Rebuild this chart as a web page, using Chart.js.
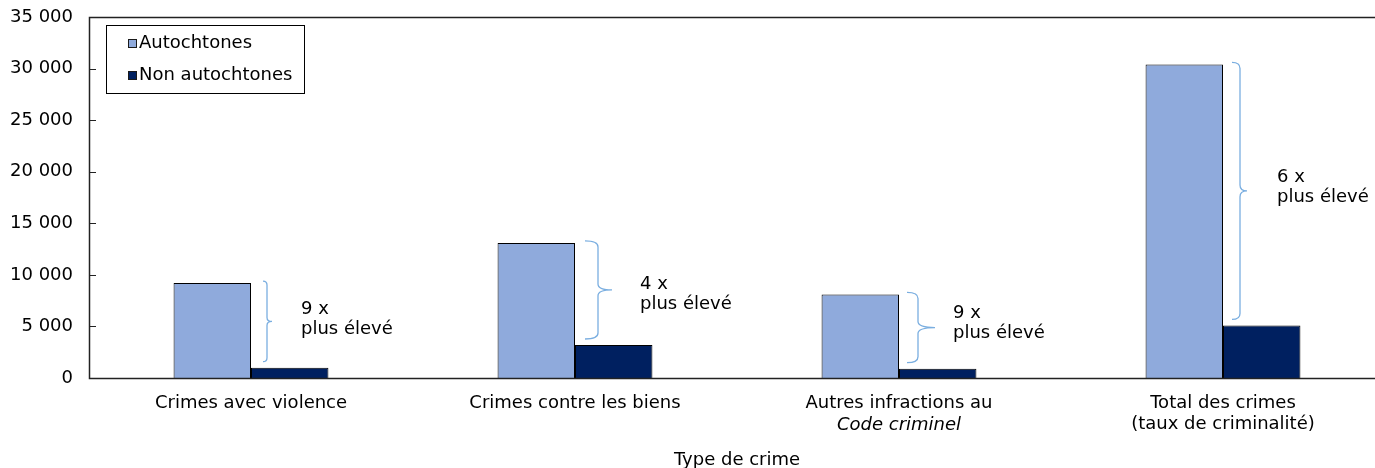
<!DOCTYPE html>
<html lang="fr">
<head>
<meta charset="utf-8">
<title>Taux de criminalité selon le type de crime</title>
<script src="https://cdn.jsdelivr.net/npm/chart.js@4.4.1/dist/chart.umd.min.js"></script>
<style>
  html, body { margin: 0; padding: 0; background: #fff; overflow: hidden; }
  #wrap { position: relative; width: 1385px; height: 468px; }
</style>
</head>
<body>
<div id="wrap"><canvas id="chart"></canvas></div>
<script>
// Categories (multi-line labels) and rates per 100 000
const categories = [
  ['Crimes avec violence'],
  ['Crimes contre les biens'],
  ['Autres infractions au', 'Code criminel'],
  ['Total des crimes', '(taux de criminalité)']
];
const autochtones = [9200, 13100, 8100, 30400];
const nonAutochtones = [1000, 3200, 900, 5100];
const seriesNames = ['Autochtones', 'Non autochtones'];
const yTicks = [0, 5000, 10000, 15000, 20000, 25000, 30000, 35000];
const axisTitle = 'Type de crime';

const FONT = '"DejaVu Sans", Verdana, sans-serif';
const FS = 18;
const COL_A = '#8FAADC';
const COL_N = '#002060';
const COL_BRACE = '#7AAEE0';

const fmt = v => String(v).replace(/\B(?=(\d{3})+(?!\d))/g, ' ');

// Second line of the third category is set in italics
const italicSecond = [false, false, true, false];

// Brace geometry, offsets in px from each category centre
const braceStyle = {
  left:  [12, 10, 8, 9],
  vert:  [16, 23, 19, 17],
  tip:   [21, 37, 36, 24],
  textX: [50, 65, 54, 54],
  textDy:[-12, -6, -14, -14]
};

const framePlugin = {
  id: 'frame',
  afterDatasetsDraw(chart) {
    const { ctx, chartArea: a, scales: { x, y } } = chart;
    ctx.save();
    // plot frame
    ctx.strokeStyle = '#222';
    ctx.lineWidth = 1.5;
    ctx.strokeRect(Math.round(a.left) + 0.5, Math.round(a.top) + 0.5,
                   Math.round(a.right - a.left), Math.round(a.bottom - a.top));
    // inward tick marks on the value axis
    ctx.lineWidth = 1;
    yTicks.forEach(v => {
      const py = Math.round(y.getPixelForValue(v)) + 0.5;
      ctx.beginPath();
      ctx.moveTo(a.left, py);
      ctx.lineTo(a.left + 7, py);
      ctx.stroke();
    });

    // braces with ratio notes
    ctx.strokeStyle = COL_BRACE;
    ctx.lineWidth = 1.3;
    ctx.fillStyle = '#000';
    ctx.font = FS + 'px ' + FONT;
    ctx.textAlign = 'left';
    ctx.textBaseline = 'middle';
    autochtones.forEach((va, i) => {
      const vn = nonAutochtones[i];
      const cx = x.getPixelForValue(i);
      const yTop = y.getPixelForValue(va) - 2;
      const yBot = y.getPixelForValue(vn) - 6;
      const xl = cx + braceStyle.left[i];
      const xv = cx + braceStyle.vert[i];
      const xt = cx + braceStyle.tip[i];
      const ym = (yTop + yBot) / 2;
      const r = Math.max(3, Math.min(6, xv - xl));
      ctx.beginPath();
      ctx.moveTo(xl, yTop);
      ctx.quadraticCurveTo(xv, yTop, xv, yTop + r);
      ctx.lineTo(xv, ym - r);
      ctx.quadraticCurveTo(xv, ym, xt, ym);
      ctx.moveTo(xt, ym);
      ctx.quadraticCurveTo(xv, ym, xv, ym + r);
      ctx.lineTo(xv, yBot - r);
      ctx.quadraticCurveTo(xv, yBot, xl, yBot);
      ctx.stroke();
      const tx = cx + braceStyle.textX[i];
      const ty = ym + braceStyle.textDy[i];
      ctx.fillText(Math.round(va / vn) + ' x', tx, ty);
      ctx.fillText('plus élevé', tx, ty + 20);
    });

    // italic second line of category labels
    ctx.font = 'italic ' + FS + 'px ' + FONT;
    ctx.textAlign = 'center';
    categories.forEach((lines, i) => {
      if (italicSecond[i] && lines[1]) {
        ctx.fillText(lines[1], x.getPixelForValue(i), a.bottom + 47);
      }
    });

    // legend box
    const lx = 106.5, ly = 25.5, lw = 198, lh = 68;
    ctx.fillStyle = '#fff';
    ctx.fillRect(lx, ly, lw, lh);
    ctx.strokeStyle = '#000';
    ctx.lineWidth = 1;
    ctx.strokeRect(lx, ly, lw, lh);
    ctx.font = FS + 'px ' + FONT;
    ctx.textAlign = 'left';
    chart.data.datasets.forEach((ds, k) => {
      const yy = 43 + k * 32;
      ctx.fillStyle = ds.backgroundColor;
      ctx.fillRect(128, yy - 4, 9, 9);
      ctx.strokeStyle = '#1a1a1a';
      ctx.strokeRect(128.5, yy - 3.5, 8, 8);
      ctx.fillStyle = '#000';
      ctx.fillText(ds.label, 139, yy);
    });
    ctx.restore();
  }
};

new Chart(document.getElementById('chart'), {
  type: 'bar',
  data: {
    labels: categories,
    datasets: [
      { label: seriesNames[0], data: autochtones, backgroundColor: COL_A,
        borderColor: '#000', borderWidth: 1, borderSkipped: 'bottom' },
      { label: seriesNames[1], data: nonAutochtones, backgroundColor: COL_N,
        borderColor: '#000', borderWidth: 1, borderSkipped: 'bottom' }
    ]
  },
  options: {
    responsive: true,
    maintainAspectRatio: false,
    animation: false,
    layout: { padding: { top: 17, right: 0, bottom: 0, left: 0 } },
    datasets: { bar: { categoryPercentage: 0.478, barPercentage: 1.0 } },
    plugins: { legend: { display: false }, tooltip: { enabled: false } },
    scales: {
      x: {
        grid: { display: false, drawTicks: false },
        border: { display: false },
        ticks: {
          color: '#000',
          padding: 15,
          maxRotation: 0,
          autoSkip: false,
          font: { family: FONT, size: FS, lineHeight: 1.167 },
          callback: (v, i) => italicSecond[i] ? [categories[i][0], ''] : categories[i]
        },
        title: {
          display: true, text: axisTitle, color: '#000',
          font: { family: FONT, size: FS, lineHeight: 0.9 },
          padding: { top: 0, bottom: 0 }
        },
        afterFit: s => { s.height = 90; }
      },
      y: {
        min: 0, max: 35000,
        grid: { display: false, drawTicks: false },
        border: { display: false },
        afterBuildTicks: s => { s.ticks = yTicks.map(v => ({ value: v })); },
        ticks: {
          color: '#000',
          padding: 16,
          font: { family: FONT, size: FS },
          callback: v => fmt(v)
        },
        afterFit: s => { s.width = 89; s.paddingTop = 0; s.paddingBottom = 0; }
      }
    }
  },
  plugins: [framePlugin]
});
</script>
</body>
</html>
